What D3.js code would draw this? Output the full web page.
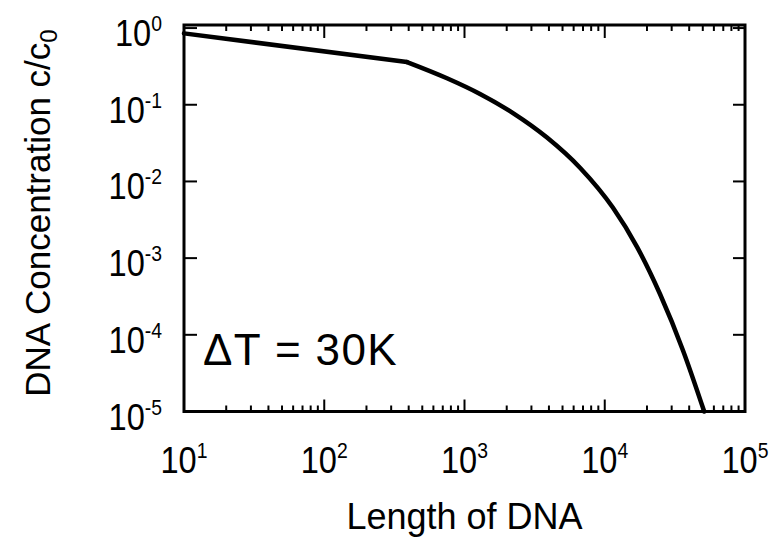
<!DOCTYPE html>
<html>
<head>
<meta charset="utf-8">
<script src="https://cdn.jsdelivr.net/npm/d3@7"></script>
<style>
  html, body { margin: 0; padding: 0; background: #fff; }
  svg { display: block; }
  text { font-family: "Liberation Sans", Arial, Helvetica, sans-serif; fill: #000; }
</style>
</head>
<body>
<svg id="chart" width="776" height="544"></svg>
<script>
// ---- data ----
const dnaLength = [10, 389, 750, 1290, 2217, 3875, 6660, 11450, 16980, 24770, 36140, 51180];
const concentration = [0.853, 0.3602, 0.2216, 0.1383, 0.0779, 0.03736, 0.01509, 0.004527, 0.001404, 0.0003402, 6.26e-5, 1.0e-5];
const xTickValues = [1e1, 1e2, 1e3, 1e4, 1e5];
const xTickExponents = ["1", "2", "3", "4", "5"];
const yTickValues = [1e0, 1e-1, 1e-2, 1e-3, 1e-4, 1e-5];
const yTickExponents = ["0", "-1", "-2", "-3", "-4", "-5"];
const xTitle = "Length of DNA";
const yTitle = "DNA Concentration c/c";
const yTitleSub = "0";
const annotation = "\u0394T = 30K";

// ---- layout ----
const pLeft = 184, pRight = 745, pTop = 25, pBottom = 411.5;
const svg = d3.select("#chart");

const x = d3.scaleLog().domain([10, 1e5]).range([pLeft, pRight]);
const y = d3.scaleLog().domain([1e-5, Math.pow(10, 0.04)]).range([pBottom, pTop]);

const xMinor = [];
for (let e = 1; e < 5; e++) for (let m = 2; m <= 9; m++) xMinor.push(m * Math.pow(10, e));

const g = svg.append("g");

g.selectAll(".xmb").data(xMinor).join("line")
  .attr("x1", d => x(d)).attr("x2", d => x(d))
  .attr("y1", pBottom).attr("y2", pBottom - 6)
  .attr("stroke", "#000").attr("stroke-width", 2);
g.selectAll(".xmt").data(xMinor).join("line")
  .attr("x1", d => x(d)).attr("x2", d => x(d))
  .attr("y1", pTop).attr("y2", pTop + 6)
  .attr("stroke", "#000").attr("stroke-width", 2);
g.selectAll(".xMb").data(xTickValues).join("line")
  .attr("x1", d => x(d)).attr("x2", d => x(d))
  .attr("y1", pBottom).attr("y2", pBottom - 12)
  .attr("stroke", "#000").attr("stroke-width", 2);
g.selectAll(".xMt").data(xTickValues).join("line")
  .attr("x1", d => x(d)).attr("x2", d => x(d))
  .attr("y1", pTop).attr("y2", pTop + 13)
  .attr("stroke", "#000").attr("stroke-width", 2);

g.selectAll(".yl").data(yTickValues).join("line")
  .attr("x1", pLeft).attr("x2", pLeft + 13)
  .attr("y1", d => y(d)).attr("y2", d => y(d))
  .attr("stroke", "#000").attr("stroke-width", 2);
g.selectAll(".yr").data(yTickValues).join("line")
  .attr("x1", pRight).attr("x2", pRight - 12)
  .attr("y1", d => y(d)).attr("y2", d => y(d))
  .attr("stroke", "#000").attr("stroke-width", 2);

g.append("rect")
  .attr("x", pLeft).attr("y", pTop)
  .attr("width", pRight - pLeft).attr("height", pBottom - pTop)
  .attr("fill", "none").attr("stroke", "#000").attr("stroke-width", 3);

// straight power-law part (first segment), then smooth fall-off
const pts = dnaLength.map((L, i) => [L, concentration[i]]);
const straight = d3.line().x(d => x(d[0])).y(d => y(d[1]));
const smooth = d3.line().x(d => x(d[0])).y(d => y(d[1])).curve(d3.curveMonotoneX);
g.append("path")
  .attr("d", straight(pts.slice(0, 2)))
  .attr("fill", "none").attr("stroke", "#000")
  .attr("stroke-width", 4.5).attr("stroke-linecap", "round");
g.append("path")
  .attr("d", smooth(pts.slice(1)))
  .attr("fill", "none").attr("stroke", "#000")
  .attr("stroke-width", 4.5).attr("stroke-linecap", "round")
  .attr("stroke-linejoin", "round");

function powerLabel(xPos, yPos, anchor, exp) {
  const t = svg.append("text")
    .attr("transform", `translate(${xPos},${yPos}) scale(0.88,1)`)
    .attr("text-anchor", anchor)
    .attr("font-size", 37);
  t.append("tspan").text("10");
  t.append("tspan").attr("dy", -15).attr("font-size", 22).text(exp);
}

xTickValues.forEach((v, i) => powerLabel(x(v), 473, "middle", xTickExponents[i]));
yTickValues.forEach((v, i) => powerLabel(162, y(v) + 18, "end", yTickExponents[i]));

svg.append("text")
  .attr("x", (pLeft + pRight) / 2).attr("y", 529)
  .attr("text-anchor", "middle")
  .attr("font-size", 36)
  .text(xTitle);

const yt = svg.append("text")
  .attr("transform", "translate(50,213) rotate(-90)")
  .attr("text-anchor", "middle")
  .attr("font-size", 35);
yt.append("tspan").text(yTitle);
yt.append("tspan").attr("dy", 7).attr("font-size", 24).text(yTitleSub);

svg.append("text")
  .attr("x", 203).attr("y", 365)
  .attr("font-size", 44)
  .attr("letter-spacing", 1.4)
  .text(annotation);
</script>
</body>
</html>
